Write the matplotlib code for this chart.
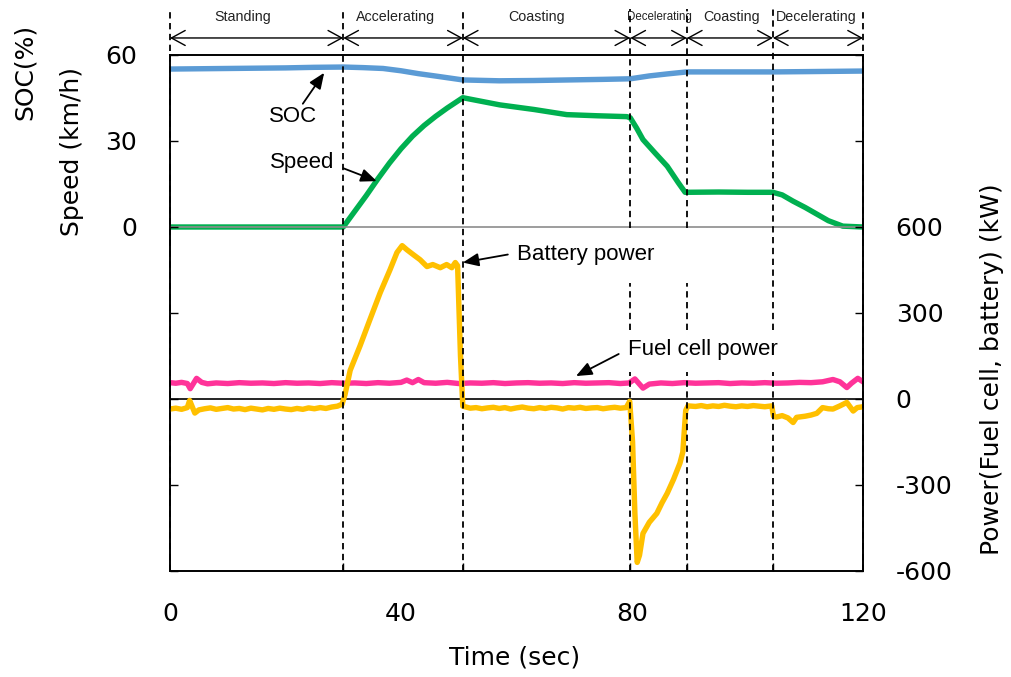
import matplotlib
matplotlib.use('Agg')
import matplotlib.pyplot as plt
from matplotlib import transforms

# ---------------- data ----------------
phase_names = ["Standing", "Accelerating", "Coasting", "Decelerating", "Coasting", "Decelerating"]
phase_bounds = [0, 30, 50.7, 79.7, 89.5, 104.4, 120]

soc_t = [0, 5, 10, 15, 20, 25, 30, 33.4, 36.9, 40, 43, 46.2, 50.7, 57, 63, 69, 75, 79.7,
         83, 86.1, 89.5, 95, 100, 104.4, 110, 115, 120]
soc_v = [55.1, 55.2, 55.3, 55.4, 55.5, 55.7, 55.8, 55.6, 55.3, 54.5, 53.5, 52.6, 51.3, 51.0,
         51.1, 51.3, 51.5, 51.7, 52.7, 53.4, 54.1, 54.1, 54.1, 54.1, 54.2, 54.3, 54.4]

spd_t = [0, 30, 32, 34, 36, 38, 40, 42, 44, 46, 48, 50.7, 57.1, 63, 68.7, 74, 79.1, 79.7,
         80.8, 81.9, 84, 86.1, 88, 89.2, 95, 100, 104.4, 106, 107.9, 110, 112, 114, 116.5, 120]
spd_v = [0, 0, 5.5, 11.0, 16.8, 22.3, 27.3, 31.7, 35.4, 38.6, 41.5, 45.1, 42.6, 41.0, 39.2,
         38.8, 38.5, 38.1, 34.5, 30.5, 25.8, 21.2, 15.5, 12.1, 12.2, 12.1, 12.1, 11.2, 9.0,
         6.8, 4.5, 2.2, 0.3, 0]

bat_t = [0, 1, 2, 3, 3.4, 4.3, 5, 6, 7, 8, 9, 10, 11, 12, 13, 14, 15, 16, 17, 18, 19, 20,
         21, 22, 23, 24, 25, 26, 27, 28, 29, 29.8,
         30.3, 31.2, 32.9, 34.6, 36.4, 38.1, 39.3, 40.2, 41.0, 42.1, 43.3, 44.5, 45.5, 46.8,
         47.9, 48.8, 49.4, 49.8, 50.3, 50.7,
         52, 53, 54, 55, 56, 57, 58, 59, 60, 61, 62, 63, 64, 65, 66, 67, 68, 69, 70, 71, 72,
         73, 74, 75, 76, 77, 78, 79, 79.6,
         80.1, 80.5, 80.9, 81.3, 81.9, 83.0, 84.3, 85.2, 86.1, 87.2, 88.3, 88.8, 89.3, 89.7,
         91, 92, 93, 94, 95, 96, 97, 98, 99, 100, 101, 102, 103, 104.2,
         104.5, 105, 106, 107, 107.9, 108.5, 110, 111, 112, 113, 114, 114.8, 116, 117.2,
         118.3, 119, 120]
bat_v = [-35, -32, -36, -30, -5, -49, -38, -34, -31, -36, -33, -30, -35, -33, -37, -32, -35,
         -38, -33, -36, -32, -35, -37, -33, -36, -31, -34, -30, -33, -28, -25, -18,
         15, 100, 185, 276, 371, 451, 511, 535, 521, 504, 486, 462, 469, 458, 469, 458, 476,
         465, 150, -25,
         -32, -30, -34, -31, -29, -33, -30, -35, -31, -28, -32, -34, -30, -33, -29, -31, -35,
         -30, -32, -29, -33, -31, -30, -34, -31, -29, -32, -30, -8,
         -150, -399, -570, -545, -469, -430, -399, -362, -329, -280, -224, -185, -40, -24,
         -26, -23, -27, -24, -26, -22, -25, -27, -24, -26, -23, -25, -27, -24,
         -60, -63, -58, -66, -82, -64, -60, -56, -50, -30, -34, -35, -24, -12, -42, -30, -27]

fc_t = [0, 1, 2, 3, 3.5, 4.6, 5.5, 6.5, 8,
        10, 12, 14, 16, 18, 20, 22, 24, 26, 28, 30, 32, 34, 36, 38, 40,
        41, 42, 43, 44,
        46, 48, 50, 52, 54, 56, 58, 60, 62, 64, 66, 68, 70, 72, 74, 76, 78,
        79.5, 80.5, 81.9, 83,
        85, 87, 89, 91, 93, 95, 97, 99, 101, 103, 105, 107, 109, 111, 113,
        114.8, 116, 117.2, 118, 119.1, 120]
fc_v = [57, 55, 58, 54, 36, 72, 58, 53, 56,
        54, 57, 55, 56, 54, 57, 55, 56, 54, 57, 55, 56, 54, 57, 55, 58,
        66, 57, 68, 57,
        55, 58, 54, 56, 55, 57, 54, 56, 57, 55, 56, 54, 57, 55, 56, 57, 54,
        56, 70, 38, 52,
        56, 54, 57, 55, 56, 57, 54, 56, 55, 57, 55, 56, 58, 57, 60,
        68, 60, 40, 55, 72, 60]

left_ticks = [0, 30, 60]
right_ticks = [-600, -300, 0, 300, 600]
x_ticks = [0, 40, 80, 120]

# ---------------- figure ----------------
TXT = 'Liberation Sans'
TICKF = 'DejaVu Sans'
fig = plt.figure(figsize=(10.11, 6.77), dpi=100)
ax1 = fig.add_axes([170 / 1011, 106 / 677, 693 / 1011, 516 / 677])
ax2 = ax1.twinx()
ax1.set_xlim(0, 120)
ax1.set_ylim(-120, 60)
ax2.set_ylim(-600, 1200)

lw = 3.9
ax1.axhline(0, color='#8c8c8c', lw=1.2, zorder=3)
ax1.plot(soc_t, soc_v, color='#5B9BD5', lw=lw, zorder=2, solid_capstyle='butt')
ax1.plot(spd_t, spd_v, color='#00B050', lw=lw, zorder=2, solid_capstyle='butt')
ax2.axhline(0, color='black', lw=1.2, zorder=1)
ax2.plot(fc_t, fc_v, color='#FF3399', lw=lw, zorder=2)
ax2.plot(bat_t, bat_v, color='#FFC000', lw=lw, zorder=2)

# phase boundaries (dashed) and arrows
trans = transforms.blended_transform_factory(ax1.transData, ax1.transAxes)
top = 1.09
for b in phase_bounds:
    if b in (79.7, 89.5):
        segs = [(0, 0.386), (0.467, 0.558), (0.6647, top)]
    elif b == 104.4:
        segs = [(0, 0.386), (0.467, top)]
    else:
        segs = [(0, top)]
    for y0, y1 in segs:
        ax2.plot([b, b], [y0, y1], transform=trans, clip_on=False, color='black',
                 lw=1.3, ls=(0, (3.5, 2.5)), zorder=5)

label_t = [12.6, 39.1, 63.5, 84.8, 97.3, 111.9]
for i in range(len(phase_bounds) - 1):
    ax2.annotate('', xy=(phase_bounds[i + 1], 1.033), xytext=(phase_bounds[i], 1.033),
                 xycoords=trans, textcoords=trans, annotation_clip=False,
                 arrowprops=dict(arrowstyle='<->,head_length=0.55,head_width=0.3',
                                 color='black', lw=1.0, shrinkA=0, shrinkB=0,
                                 mutation_scale=18))
    fs = 8.3 if i == 3 else 10.3
    ax2.text(label_t[i], 1.074, phase_names[i], transform=trans, ha='center', va='center',
             fontsize=fs, family=TXT, color='#222222')

# annotations
afs = 16
arrow_kw = dict(arrowstyle='-|>,head_length=0.6,head_width=0.25', color='black', lw=1.3,
                shrinkA=0, shrinkB=0, mutation_scale=16)
ax1.text(21.3, 38.5, 'SOC', ha='center', va='center', fontsize=afs, family=TXT)
ax1.annotate('', xy=(26.7, 53.8), xytext=(23.0, 43.0), arrowprops=arrow_kw)
ax1.text(22.9, 22.5, 'Speed', ha='center', va='center', fontsize=afs, family=TXT)
ax1.annotate('', xy=(35.8, 16.0), xytext=(30.0, 20.5), arrowprops=arrow_kw)
ax2.text(60.1, 504, 'Battery power', ha='left', va='center', fontsize=afs, family=TXT)
ax2.annotate('', xy=(50.7, 476), xytext=(58.5, 504), arrowprops=arrow_kw)
ax2.text(79.3, 171, 'Fuel cell power', ha='left', va='center', fontsize=afs, family=TXT)
ax2.annotate('', xy=(70.3, 80), xytext=(77.7, 157), arrowprops=arrow_kw)

# ticks
ax1.set_yticks(left_ticks)
ax1.set_yticklabels([str(v) for v in left_ticks], family=TICKF, fontsize=18)
ax1.tick_params(axis='y', direction='in', length=6, width=1, left=True, right=True,
                labelleft=True, labelright=False, pad=23.5)
ax2.set_yticks(right_ticks)
ax2.set_yticklabels([str(v) for v in right_ticks], family=TICKF, fontsize=18)
ax2.tick_params(axis='y', direction='in', length=6, width=1, left=True, right=True,
                labelleft=False, labelright=True, pad=23.5)
ax1.set_xticks(x_ticks)
ax1.set_xticklabels([str(v) for v in x_ticks], family=TICKF, fontsize=18)
ax1.set_xticks(phase_bounds[1:-1], minor=True)
ax1.tick_params(axis='x', which='major', length=0, pad=22)
ax1.tick_params(axis='x', which='minor', direction='in', length=6, width=1)

for ax in (ax1, ax2):
    for s in ax.spines.values():
        s.set_linewidth(1.2)
        s.set_color('black')

# axis labels
fig.text(25 / 1011, 1 - 72 / 677, 'SOC(%)', rotation=90, ha='center', va='center',
         fontsize=18, family=TICKF)
fig.text(72 / 1011, 1 - 152 / 677, 'Speed (km/h)', rotation=90, ha='center', va='center',
         fontsize=18, family=TICKF)
fig.text(992 / 1011, 1 - 369 / 677, 'Power(Fuel cell, battery) (kW)', rotation=90,
         ha='center', va='center', fontsize=18, family=TICKF)
fig.text(515 / 1011, 1 - 657 / 677, 'Time (sec)', ha='center', va='center',
         fontsize=18, family=TICKF)

fig.savefig('out.png', dpi=100)
